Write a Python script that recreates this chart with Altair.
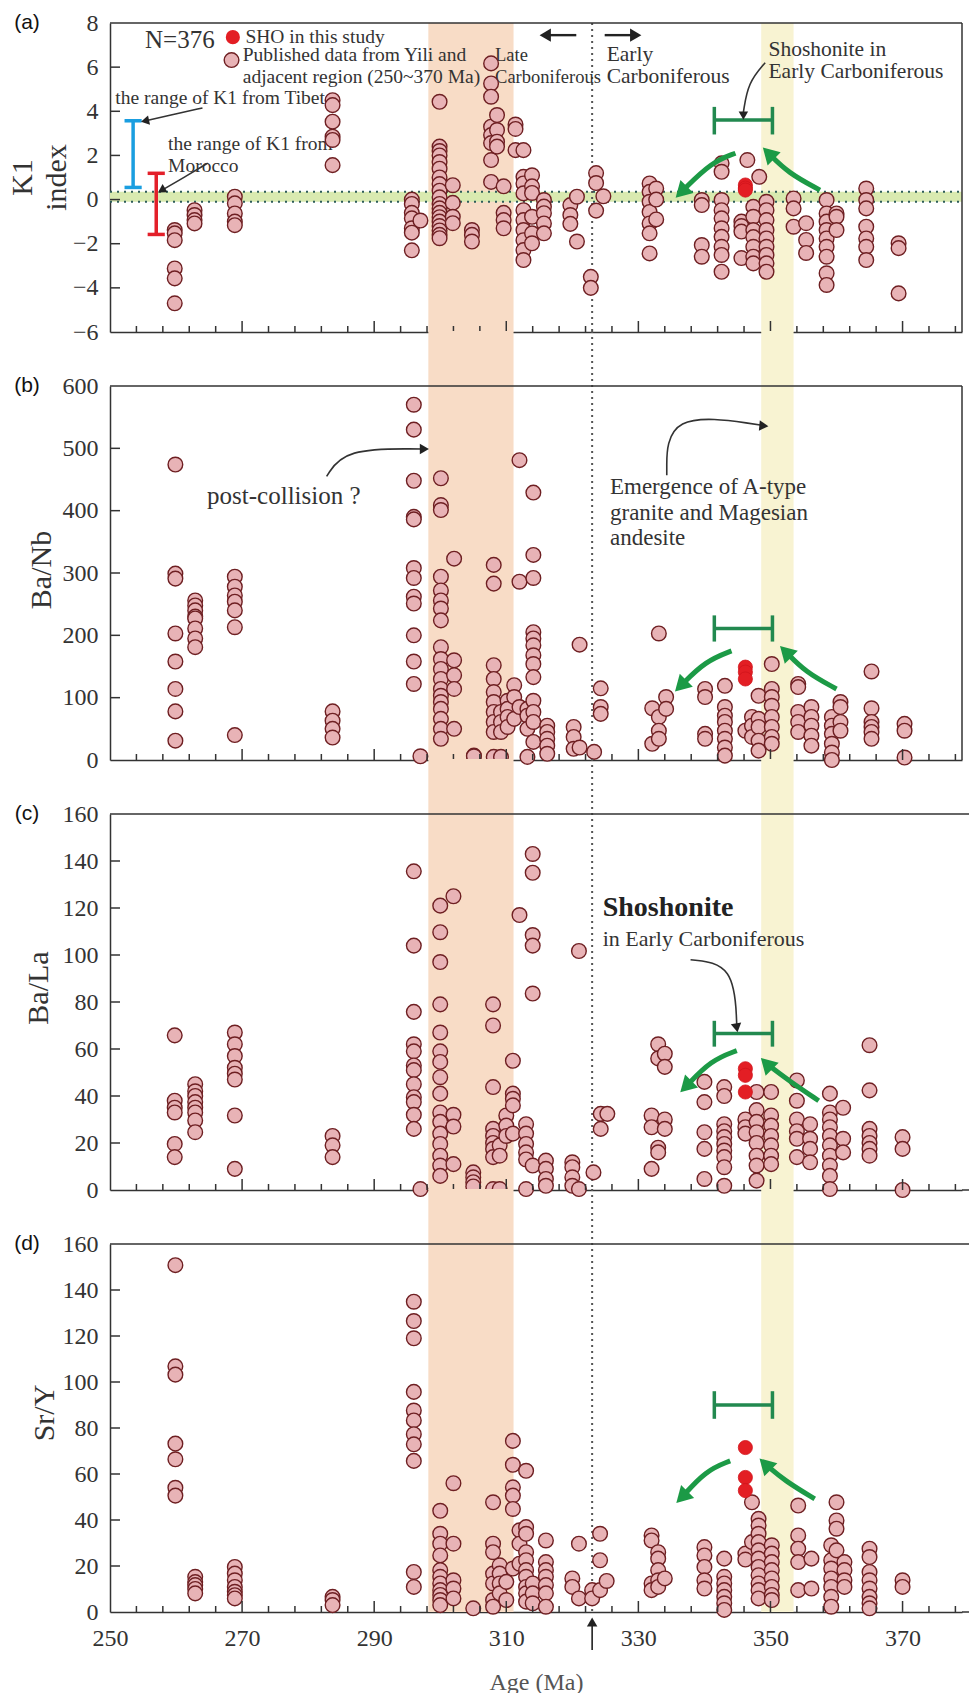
import altair as alt
import pandas as pd

# ---------------- data ----------------
X_DOMAIN = [250, 379]
X_LABELS = [250, 270, 290, 310, 330, 350, 370]
X_MAJOR_TICKS = [270, 290, 310, 330, 350, 370]
X_MINOR_TICKS = [254, 258, 262, 266, 274, 278, 282, 286, 294, 298, 302, 306,
                 314, 318, 322, 326, 334, 338, 342, 346, 354, 358, 362, 366,
                 374, 378]
ORANGE_BAND = [298.2, 311.1]
YELLOW_BAND = [348.6, 353.5]
DIVIDE_AGE = [323.0]
BRACKET_AGES = [341.5, 350.3]

K1_DATA = [
    (259.8, [-1.38, -1.53, -1.84, -3.12, -3.57, -4.7]),
    (262.8, [-0.48, -0.7, -0.93, -1.08]),
    (268.9, [0.13, -0.17, -0.63, -1.0, -1.16]),
    (283.7, [4.5, 4.28, 3.53, 2.85, 2.7, 1.56]),
    (295.7, [0.0, -0.2, -0.6, -0.85, -1.3, -1.5, -2.3]),
    (297.0, [-0.95]),
    (299.9, [4.43, 2.4, 2.2, 2.0, 1.7, 1.4, 1.0, 0.7, 0.4, 0.1, -0.2, -0.4,
             -0.6, -0.8, -1.0, -1.2, -1.4, -1.6, -1.75]),
    (301.9, [0.65, -0.15, -0.78, -1.07]),
    (304.8, [-1.38, -1.6, -1.9]),
    (307.7, [6.17, 5.26, 4.66, 3.3, 2.92, 2.56, 1.79, 0.8]),
    (308.6, [3.83, 3.15, 2.62, 2.4]),
    (309.6, [0.6, -0.6, -0.93, -1.3]),
    (311.4, [3.4, 3.2, 2.24]),
    (312.6, [2.24, 1.03, 0.73, 0.28, -0.48, -0.93, -1.38, -1.84, -2.29, -2.74]),
    (313.9, [1.1, 0.6, 0.3, -0.78, -1.53, -1.98]),
    (315.7, [-0.02, -0.32, -0.62, -1.08, -1.53]),
    (319.7, [-0.25, -0.7, -1.1]),
    (320.7, [0.13, -1.9]),
    (322.8, [-3.5, -4.0]),
    (323.6, [1.2, 0.75, -0.5]),
    (324.7, [0.15]),
    (331.7, [0.73, 0.35, -0.1, -0.56, -1.08, -1.53, -2.44]),
    (332.7, [0.5, 0.0, -0.9]),
    (339.6, [-0.02, -0.25, -2.06, -2.59]),
    (342.6, [1.64, 1.26, -0.02, -0.48, -0.85, -1.3, -1.69, -2.14, -2.51, -3.27]),
    (345.6, [-1.0, -1.2, -1.45, -2.65]),
    (346.5, [1.79]),
    (347.4, [-0.33, -0.78, -1.38, -1.7, -2.14, -2.59, -2.89]),
    (348.3, [1.03]),
    (349.4, [-0.1, -0.48, -0.93, -1.38, -1.76, -2.14, -2.51, -2.89, -3.27]),
    (353.5, [0.05, -0.4, -1.23]),
    (355.4, [-1.07, -1.83, -2.42]),
    (358.5, [-0.02, -0.63, -1.0, -1.38, -1.76, -2.14, -2.59, -3.34, -3.87]),
    (360.0, [-0.63, -0.78, -1.38]),
    (364.5, [0.5, -0.02, -0.4, -1.23, -1.76, -2.14, -2.74]),
    (369.4, [-1.98, -2.2, -4.25]),
]
K1_SHO = [(346.2, [0.66, 0.52, 0.43])]

BANB_DATA = [
    (259.9, [474, 299, 291, 203, 158, 114, 78, 31]),
    (262.9, [256, 248, 240, 230, 227, 211, 195, 181]),
    (268.9, [294, 278, 264, 254, 240, 213, 40]),
    (283.7, [78, 63, 50, 36]),
    (296.0, [570, 530, 448, 390, 386, 308, 292, 262, 251, 200, 158, 122]),
    (297.0, [6]),
    (300.1, [452, 409, 401, 294, 272, 256, 243, 224, 181, 162, 146, 130, 114,
             103, 93, 82, 66, 50, 34]),
    (302.1, [323, 160, 136, 114, 50]),
    (305.1, [7, 6]),
    (308.1, [313, 283, 152, 130, 109, 93, 77, 61, 45, 5]),
    (309.2, [77, 61, 45, 5]),
    (310.2, [95, 82, 69, 53]),
    (311.2, [120, 101, 66]),
    (312.0, [481, 286, 85]),
    (313.2, [82, 71, 50, 5]),
    (314.1, [429, 329, 292, 205, 195, 184, 168, 154, 133, 95, 77, 61, 29]),
    (316.2, [55, 45, 34, 23, 10]),
    (320.2, [53, 37, 18]),
    (321.1, [185, 20]),
    (323.3, [13]),
    (324.3, [115, 85, 74]),
    (332.1, [83, 26]),
    (333.1, [203, 69, 47, 34]),
    (334.2, [101, 82]),
    (340.1, [114, 101, 42, 34]),
    (343.1, [119, 85, 71, 61, 47, 34, 20, 7]),
    (346.2, [47]),
    (347.2, [69, 55, 37]),
    (348.2, [103, 66, 53, 31, 15]),
    (350.2, [154, 114, 101, 87, 69, 53, 37, 26]),
    (354.2, [122, 117, 77, 61, 45]),
    (356.2, [85, 69, 55, 39, 23]),
    (359.3, [69, 55, 42, 26, 12, 0]),
    (360.6, [93, 85, 61, 47]),
    (365.3, [142, 83, 61, 53, 45, 34]),
    (370.3, [58, 47, 4]),
]
BANB_SHO = [(346.2, [149, 141, 130])]

BALA_DATA = [
    (259.8, [65.8, 38, 35, 33, 19.6, 14]),
    (262.9, [45, 42, 40, 37.4, 35, 33, 29.6, 24.6]),
    (268.9, [67, 62, 57, 52, 49.5, 47, 31.7, 9]),
    (283.7, [23, 19, 14]),
    (296.0, [135.6, 104, 75.8, 62, 59, 53, 51, 45, 39.5, 37.4, 32, 26]),
    (297.0, [0.4]),
    (300.0, [121, 109.7, 97, 79, 67, 59, 54.5, 48, 41, 33, 29, 24, 19.6, 14.6,
             10.4, 6]),
    (302.0, [125, 32, 27, 11]),
    (305.0, [7.5, 5.4, 3.3, 1.5]),
    (308.0, [79, 70, 43.8, 26, 23, 20, 17.5, 14, 0.4]),
    (309.0, [19, 14.6, 0.4]),
    (310.0, [31.7, 27.4, 23]),
    (311.0, [55, 41, 38.8, 36, 24]),
    (312.0, [117]),
    (313.0, [28, 24, 19.6, 16, 13, 0.4]),
    (314.0, [143, 135, 108.5, 104, 83.6, 10.4]),
    (316.0, [12.5, 9, 4.7, 1.8]),
    (320.0, [11.8, 9.7, 5.4, 1.8]),
    (321.0, [101.7, 0.4]),
    (323.2, [7.5]),
    (324.3, [32.4, 26]),
    (325.3, [32.4]),
    (332.0, [31.7, 26.7, 9]),
    (333.0, [62, 56, 18, 16]),
    (334.0, [58, 52.4, 30, 26]),
    (340.0, [46, 37.4, 24.6, 17.5, 4.7]),
    (343.0, [43.8, 40, 28, 25, 22.5, 19.6, 16.8, 14, 9.7, 1.8]),
    (346.2, [30, 26.7, 24]),
    (347.9, [41.7, 34, 29, 24.6, 20, 14.6, 10.4, 4]),
    (350.1, [41.7, 31.7, 27.4, 23, 19, 14.6, 11]),
    (354.0, [46.6, 38, 30, 25, 21.8, 14]),
    (356.0, [28, 21.8, 17.5, 11.8]),
    (359.0, [41, 33, 30, 26.7, 23, 19, 14.6, 10.4, 6, 0.4]),
    (361.0, [35, 21.8, 16]),
    (365.0, [61.6, 42.4, 26, 23, 20, 17.5, 14.6]),
    (370.0, [22.5, 17.5, 0]),
]
BALA_SHO = [(346.2, [51.6, 48.8, 41.7])]

SRY_DATA = [
    (259.9, [150.8, 106.8, 103.2, 73.2, 66.4, 54, 50.6]),
    (262.9, [15.3, 13, 11.7, 10, 8.1]),
    (268.9, [19.6, 16.7, 13.8, 10.9, 8.8, 7.3, 5.9]),
    (283.7, [6.6, 5.2, 3]),
    (296.0, [134.9, 126.5, 119, 95.7, 87.6, 83.3, 77.3, 72.9, 65.7, 17.4, 10.9]),
    (300.0, [44, 34, 29.7, 24.6, 18.2, 15.3, 12.4, 9.5, 7.4, 5.2, 3]),
    (302.0, [56, 29.7, 13.8, 10.2, 5.9]),
    (305.0, [1.6]),
    (308.0, [47.7, 29.7, 26, 16.7, 12.4, 5.2, 2.3]),
    (309.0, [20.3, 16.7, 12.4, 8.1]),
    (310.0, [13.1, 5.2]),
    (311.0, [74.4, 64, 54.2, 50.6, 44.8, 18.9]),
    (312.0, [35.5, 29.7, 21]),
    (313.0, [61.4, 36.9, 34, 26, 22.5, 18.2, 15.3, 10.9, 8.1, 4.5]),
    (314.0, [12.4, 8.1, 3.8]),
    (316.0, [31.1, 21.7, 18.2, 15.3, 11.7, 8.1, 2.3]),
    (320.0, [14.6, 10.9]),
    (321.0, [29.7, 5.9]),
    (323.0, [9.5, 5.9]),
    (324.2, [34, 22.5, 9.5]),
    (325.2, [13.5]),
    (332.0, [33.3, 31.1, 12.4, 9.5]),
    (333.0, [26, 23.2, 18.2, 13.8, 10.9]),
    (334.0, [14.6]),
    (340.0, [28.2, 24.6, 19.6, 13.8, 10.2]),
    (343.0, [23.2, 15.3, 12.4, 9.5, 6.6, 3.8, 0.9]),
    (346.2, [25.4, 22.8]),
    (347.2, [47.7, 30.4]),
    (348.2, [40.5, 37.6, 34, 30.4, 26.8, 23.2, 19.6, 16, 12.4, 9.5, 5.9]),
    (350.2, [29, 25.4, 21.7, 18.2, 14.6, 10.9, 7.4, 5.2]),
    (354.2, [46.3, 33.3, 27.5, 21.7, 9.5]),
    (356.2, [23.2, 10.2]),
    (359.2, [29, 22.5, 18.9, 14.6, 10.9, 6.6, 2.3]),
    (360.0, [47.7, 39.8, 36.2, 26.8]),
    (361.2, [21.7, 18.2, 13.8, 10.9]),
    (365.0, [27.5, 23.9, 17.4, 13.8, 10.2, 6.6, 3.8, 1.6]),
    (370.0, [13.8, 10.9]),
]
SRY_SHO = [(346.2, [71.5, 58.5, 52.8])]

# bracket: (y, cap_low, cap_high) per panel
BRACKETS = [(3.6, 2.95, 4.2), (211, 190, 232), (66.6, 61, 72), (90, 84, 96)]
# green curved arrows: (start, mid, end) points per panel, left & right
GREEN_ARROWS = [
    [[(344.7, 2.1), (341.1, 1.7), (336.5, 0.34)],
     [(357.5, 0.43), (352.7, 1.2), (349.7, 2.1)]],
    [[(344.1, 175), (340.2, 159), (336.4, 119)],
     [(360.0, 114), (355.3, 141), (352.3, 174)]],
    [[(344.9, 59.3), (341.0, 55.2), (337.2, 44)],
     [(357.3, 38), (352.8, 46.5), (349.4, 53.8)]],
    [[(343.9, 65.7), (340.2, 61.5), (336.6, 49.9)],
     [(356.7, 49.2), (352.2, 57.0), (349.2, 64.3)]],
]
K1_SHOSHONITE_BAND = [-0.1, 0.35]
TIBET_RANGE = (253.5, 0.55, 3.57)
MOROCCO_RANGE = (257.0, -1.58, 1.19)

# ---------------- style ----------------
W = 852
HEIGHTS = [309, 374, 376, 368]
SPACING = 54
SERIF = "Liberation Serif"
TEXT = "#333333"
AXIS = "#333333"
PINK_FILL = "#e8b3b6"
PINK_STROKE = "#6e1f22"
RED = "#e31e24"
ORANGE = "#f8dcc6"
YELLOW = "#f8f3d2"
LIGHT_GREEN = "#d9eab0"
GREEN = "#22894f"
GREEN_ARROW = "#1c9a46"
BLUE = "#1a9ee0"
RANGE_RED = "#e3202a"
PT_SIZE = 215

XS = alt.Scale(domain=X_DOMAIN, nice=False, zero=False)
ONE = pd.DataFrame({"k": [0]})


def points_df(groups):
    rows = []
    for age, vals in groups:
        for v in vals:
            rows.append({"age": age, "v": v})
    return pd.DataFrame(rows)


def seg_df(segs):
    return pd.DataFrame([{"x1": a, "y1": b, "x2": c, "y2": d} for a, b, c, d in segs])


def panel(idx, groups, sho, ydomain, yticks, title, title_x, title_y, label,
          texts, bold_texts, black_paths, heads, segs_black, extra, frame_right):
    H = HEIGHTS[idx]
    top_ext = 0 if idx == 0 else -(SPACING + 1)
    ys = alt.Scale(domain=ydomain, nice=False, zero=False)
    xaxis = alt.Axis(values=X_LABELS, ticks=False, grid=False, domain=True,
                     labels=(idx == 3), labelFlush=False,
                     title=("Age (Ma)" if idx == 3 else None),
                     labelPadding=14, titlePadding=20, titleFontSize=24,
                     titleFont=SERIF, titleColor="#555555", titleFontWeight="normal")
    yaxis = alt.Axis(values=yticks, ticks=False, grid=False, domain=True,
                     labelFlush=False, title=None, labelPadding=12)

    def X(f):
        return alt.X(f + ":Q", scale=XS, axis=xaxis)

    def Y(f):
        return alt.Y(f + ":Q", scale=ys, axis=yaxis)

    layers = []
    bands = pd.DataFrame({"a": [ORANGE_BAND[0], YELLOW_BAND[0]],
                          "b": [ORANGE_BAND[1], YELLOW_BAND[1]],
                          "c": [ORANGE, YELLOW]})
    layers.append(alt.Chart(bands).mark_rect().encode(
        x=X("a"), x2="b:Q", y=alt.value(top_ext), y2=alt.value(H),
        color=alt.Color("c:N", scale=None)))
    layers += extra(X, Y, H)
    layers.append(alt.Chart(pd.DataFrame({"age": DIVIDE_AGE})).mark_rule(
        color="#555555", strokeDash=[2, 4], strokeWidth=2).encode(
        x=X("age"), y=alt.value(top_ext), y2=alt.value(H)))

    if texts:
        tdf = pd.DataFrame(texts, columns=["age", "v", "t", "fs"])
        layers.append(alt.Chart(tdf).mark_text(
            align="left", baseline="middle", font=SERIF, color=TEXT).encode(
            x=X("age"), y=Y("v"), text="t:N", size=alt.Size("fs:Q", scale=None)))
    if bold_texts:
        tdf = pd.DataFrame(bold_texts, columns=["age", "v", "t", "fs"])
        layers.append(alt.Chart(tdf).mark_text(
            align="left", baseline="middle", font=SERIF, color="#222222",
            fontWeight="bold").encode(
            x=X("age"), y=Y("v"), text="t:N", size=alt.Size("fs:Q", scale=None)))

    # data points
    layers.append(alt.Chart(points_df(groups)).mark_circle(
        size=PT_SIZE, fill=PINK_FILL, stroke=PINK_STROKE, strokeWidth=1.4,
        opacity=1).encode(x=X("age"), y=Y("v")))
    layers.append(alt.Chart(points_df(sho)).mark_circle(
        size=PT_SIZE - 15, fill=RED, stroke="#d0141c", strokeWidth=0.8,
        opacity=1).encode(x=X("age"), y=Y("v")))

    # green bracket
    by, blo, bhi = BRACKETS[idx]
    a0, a1 = BRACKET_AGES
    layers.append(alt.Chart(seg_df([(a0, by, a1, by), (a0, blo, a0, bhi),
                                    (a1, blo, a1, bhi)])).mark_rule(
        color=GREEN, strokeWidth=3.5).encode(
        x=X("x1"), x2="x2:Q", y=Y("y1"), y2="y2:Q"))

    # green curved arrows
    rows = []
    hrows = []
    for j, pts in enumerate(GREEN_ARROWS[idx]):
        for o, (a, v) in enumerate(pts):
            rows.append({"id": j, "o": o, "age": a, "v": v})
        hrows.append({"age": pts[-1][0], "v": pts[-1][1], "ang": 225 if j == 0 else 315})
    layers.append(alt.Chart(pd.DataFrame(rows)).mark_line(
        color=GREEN_ARROW, strokeWidth=5, interpolate="basis").encode(
        x=X("age"), y=Y("v"), detail="id:N", order="o:Q"))
    layers.append(alt.Chart(pd.DataFrame(hrows)).mark_point(
        shape="triangle-up", filled=True, size=340, color=GREEN_ARROW,
        opacity=1).encode(x=X("age"), y=Y("v"), angle=alt.Angle("ang:Q", scale=None)))

    # black annotation arrows
    if black_paths:
        rows = []
        for j, pts in enumerate(black_paths):
            for o, (a, v) in enumerate(pts):
                rows.append({"id": j, "o": o, "age": a, "v": v})
        layers.append(alt.Chart(pd.DataFrame(rows)).mark_line(
            color="#333333", strokeWidth=1.6, interpolate="basis").encode(
            x=X("age"), y=Y("v"), detail="id:N", order="o:Q"))
    if segs_black:
        layers.append(alt.Chart(seg_df(segs_black)).mark_rule(
            color="#222222", strokeWidth=2.4).encode(
            x=X("x1"), x2="x2:Q", y=Y("y1"), y2="y2:Q"))
    if heads:
        hdf = pd.DataFrame(heads, columns=["age", "v", "ang", "s"])
        layers.append(alt.Chart(hdf).mark_point(
            shape="triangle-up", filled=True, color="#222222", opacity=1).encode(
            x=X("age"), y=Y("v"), angle=alt.Angle("ang:Q", scale=None),
            size=alt.Size("s:Q", scale=None)))

    # inward ticks
    layers.append(alt.Chart(pd.DataFrame({"age": X_MAJOR_TICKS})).mark_rule(
        color=AXIS, strokeWidth=1.5).encode(x=X("age"), y=alt.value(H), y2=alt.value(H - 11)))
    layers.append(alt.Chart(pd.DataFrame({"age": X_MINOR_TICKS})).mark_rule(
        color=AXIS, strokeWidth=1.5).encode(x=X("age"), y=alt.value(H), y2=alt.value(H - 6)))
    layers.append(alt.Chart(pd.DataFrame({"v": yticks[1:-1]})).mark_rule(
        color=AXIS, strokeWidth=1.5).encode(y=Y("v"), x=alt.value(0), x2=alt.value(10)))

    # frame
    layers.append(alt.Chart(ONE).mark_rule(color=AXIS, strokeWidth=1.5).encode(
        x=alt.value(0), x2=alt.value(W if frame_right else W + 7), y=alt.value(0)))
    if frame_right:
        layers.append(alt.Chart(ONE).mark_rule(color=AXIS, strokeWidth=1.5).encode(
            x=alt.value(W), y=alt.value(0), y2=alt.value(H)))
    else:
        layers.append(alt.Chart(ONE).mark_rule(color=AXIS, strokeWidth=1.5).encode(
            x=alt.value(W), x2=alt.value(W + 7), y=alt.value(H)))

    # axis title and panel label
    layers.append(alt.Chart(ONE).mark_text(
        text=title, font=SERIF, fontSize=30, angle=270, align="center",
        baseline="middle", color=TEXT, lineHeight=34).encode(
        x=alt.value(title_x), y=alt.value(title_y)))
    layers.append(alt.Chart(ONE).mark_text(
        text=label, font="Liberation Sans", fontSize=21, align="center",
        baseline="middle", color="#111111").encode(
        x=alt.value(-83), y=alt.value(0)))

    return alt.layer(*layers).properties(width=W, height=H)


# ---------- panel (a) extras ----------
def extra_a(X, Y, H):
    lo, hi = K1_SHOSHONITE_BAND
    out = [alt.Chart(pd.DataFrame({"lo": [lo], "hi": [hi]})).mark_rect(
        color=LIGHT_GREEN, opacity=1).encode(
        x=alt.value(0), x2=alt.value(W), y=Y("lo"), y2="hi:Q")]
    out.append(alt.Chart(pd.DataFrame({"v": [lo, hi]})).mark_rule(
        color="#2d5c5a", strokeDash=[2, 5], strokeWidth=2).encode(
        x=alt.value(0), x2=alt.value(W), y=Y("v")))
    ta, tlo, thi = TIBET_RANGE
    ma, mlo, mhi = MOROCCO_RANGE
    out.append(alt.Chart(seg_df([(ta, tlo, ta, thi), (ta - 1.3, tlo, ta + 1.3, tlo),
                                 (ta - 1.3, thi, ta + 1.3, thi)])).mark_rule(
        color=BLUE, strokeWidth=3.5).encode(x=X("x1"), x2="x2:Q", y=Y("y1"), y2="y2:Q"))
    out.append(alt.Chart(seg_df([(ma, mlo, ma, mhi), (ma - 1.3, mlo, ma + 1.3, mlo),
                                 (ma - 1.3, mhi, ma + 1.3, mhi)])).mark_rule(
        color=RANGE_RED, strokeWidth=3.5).encode(x=X("x1"), x2="x2:Q", y=Y("y1"), y2="y2:Q"))
    # legend symbols
    out.append(alt.Chart(pd.DataFrame({"age": [268.6], "v": [7.36]})).mark_circle(
        size=PT_SIZE - 15, fill=RED, opacity=1).encode(x=X("age"), y=Y("v")))
    out.append(alt.Chart(pd.DataFrame({"age": [268.4], "v": [6.32]})).mark_circle(
        size=PT_SIZE, fill=PINK_FILL, stroke=PINK_STROKE, strokeWidth=1.4, opacity=1).encode(
        x=X("age"), y=Y("v")))
    return out


def no_extra(X, Y, H):
    return []


def extra_d(X, Y, H):
    # black arrow below the bottom panel, marking the boundary age
    return [
        alt.Chart(pd.DataFrame({"age": DIVIDE_AGE})).mark_rule(
            color="#222222", strokeWidth=1.6).encode(
            x=X("age"), y=alt.value(H + 38), y2=alt.value(H + 12)),
        alt.Chart(pd.DataFrame({"age": DIVIDE_AGE})).mark_point(
            shape="triangle-up", filled=True, size=110, color="#222222",
            opacity=1).encode(x=X("age"), y=alt.value(H + 10)),
    ]


TEXTS_A = [
    (255.3, 7.23, "N=376", 25),
    (270.5, 7.36, "SHO in this study", 19.5),
    (270.1, 6.55, "Published data from Yili and", 19.5),
    (270.1, 5.55, "adjacent region (250~370 Ma)", 19.5),
    (250.8, 4.6, "the range of K1 from Tibet", 19.5),
    (258.8, 2.51, "the range of K1 from", 19.5),
    (258.8, 1.52, "Morocco", 19.5),
    (308.3, 6.55, "Late", 18.5),
    (308.3, 5.55, "Carboniferous", 18.5),
    (325.2, 6.55, "Early", 21.5),
    (325.2, 5.55, "Carboniferous", 21.5),
    (349.7, 6.77, "Shoshonite in", 21.5),
    (349.7, 5.78, "Early Carboniferous", 21.5),
]
PATHS_A = [
    [(264.0, 4.15), (259.5, 3.85), (255.4, 3.57)],
    [(264.8, 1.65), (261.2, 1.0), (258.0, 0.45)],
    [(349.2, 6.2), (346.6, 5.3), (345.9, 3.95)],
]
SEGS_A = [(320.6, 7.45, 316.5, 7.45), (324.9, 7.45, 329.0, 7.45)]
HEADS_A = [
    (255.3, 3.56, 258, 90), (257.8, 0.42, 239, 90), (345.9, 3.8, 180, 90),
    (315.9, 7.45, 270, 170), (329.6, 7.45, 90, 170),
]

TEXTS_B = [
    (264.7, 423, "post-collision ?", 25),
    (325.7, 437.5, "Emergence of A-type", 23),
    (325.7, 396, "granite and Magesian", 23),
    (325.7, 355.5, "andesite", 23),
]
PATHS_B = [
    [(282.8, 455), (285.5, 500), (297.3, 499)],
    [(334.3, 457), (334.3, 560), (348.7, 537)],
]
HEADS_B = [(297.6, 499, 90, 110), (349.0, 536, 95, 110)]

TEXTS_C = [(324.6, 107, "in Early Carboniferous", 22)]
BOLD_C = [(324.6, 120, "Shoshonite", 28)]
PATHS_C = [[(337.9, 98), (344.5, 96), (344.9, 70)]]
HEADS_C = [(344.9, 69, 170, 110)]

a = panel(0, K1_DATA, K1_SHO, [-6, 8], [-6, -4, -2, 0, 2, 4, 6, 8],
          ["K1", "index"], -87, HEIGHTS[0] / 2, "(a)",
          TEXTS_A, None, PATHS_A, HEADS_A, SEGS_A, extra_a, True)
b = panel(1, BANB_DATA, BANB_SHO, [0, 600], [0, 100, 200, 300, 400, 500, 600],
          "Ba/Nb", -68, 184, "(b)",
          TEXTS_B, None, PATHS_B, HEADS_B, None, no_extra, True)
c = panel(2, BALA_DATA, BALA_SHO, [0, 160], [0, 20, 40, 60, 80, 100, 120, 140, 160],
          "Ba/La", -71, 174, "(c)",
          TEXTS_C, BOLD_C, PATHS_C, HEADS_C, None, no_extra, False)
d = panel(3, SRY_DATA, SRY_SHO, [0, 160], [0, 20, 40, 60, 80, 100, 120, 140, 160],
          "Sr/Y", -65, 169, "(d)",
          None, None, None, None, None, extra_d, False)

chart = alt.vconcat(a, b, c, d, spacing=SPACING, bounds="flush").properties(
    padding={"left": 8, "top": 11, "right": 0, "bottom": 0}
).configure_view(stroke=None).configure_axis(
    domainColor=AXIS, domainWidth=1.5, labelFont=SERIF, labelFontSize=24,
    labelColor=TEXT, grid=False
)

chart.save("out.html", embed_options={"renderer": "svg", "actions": False})
